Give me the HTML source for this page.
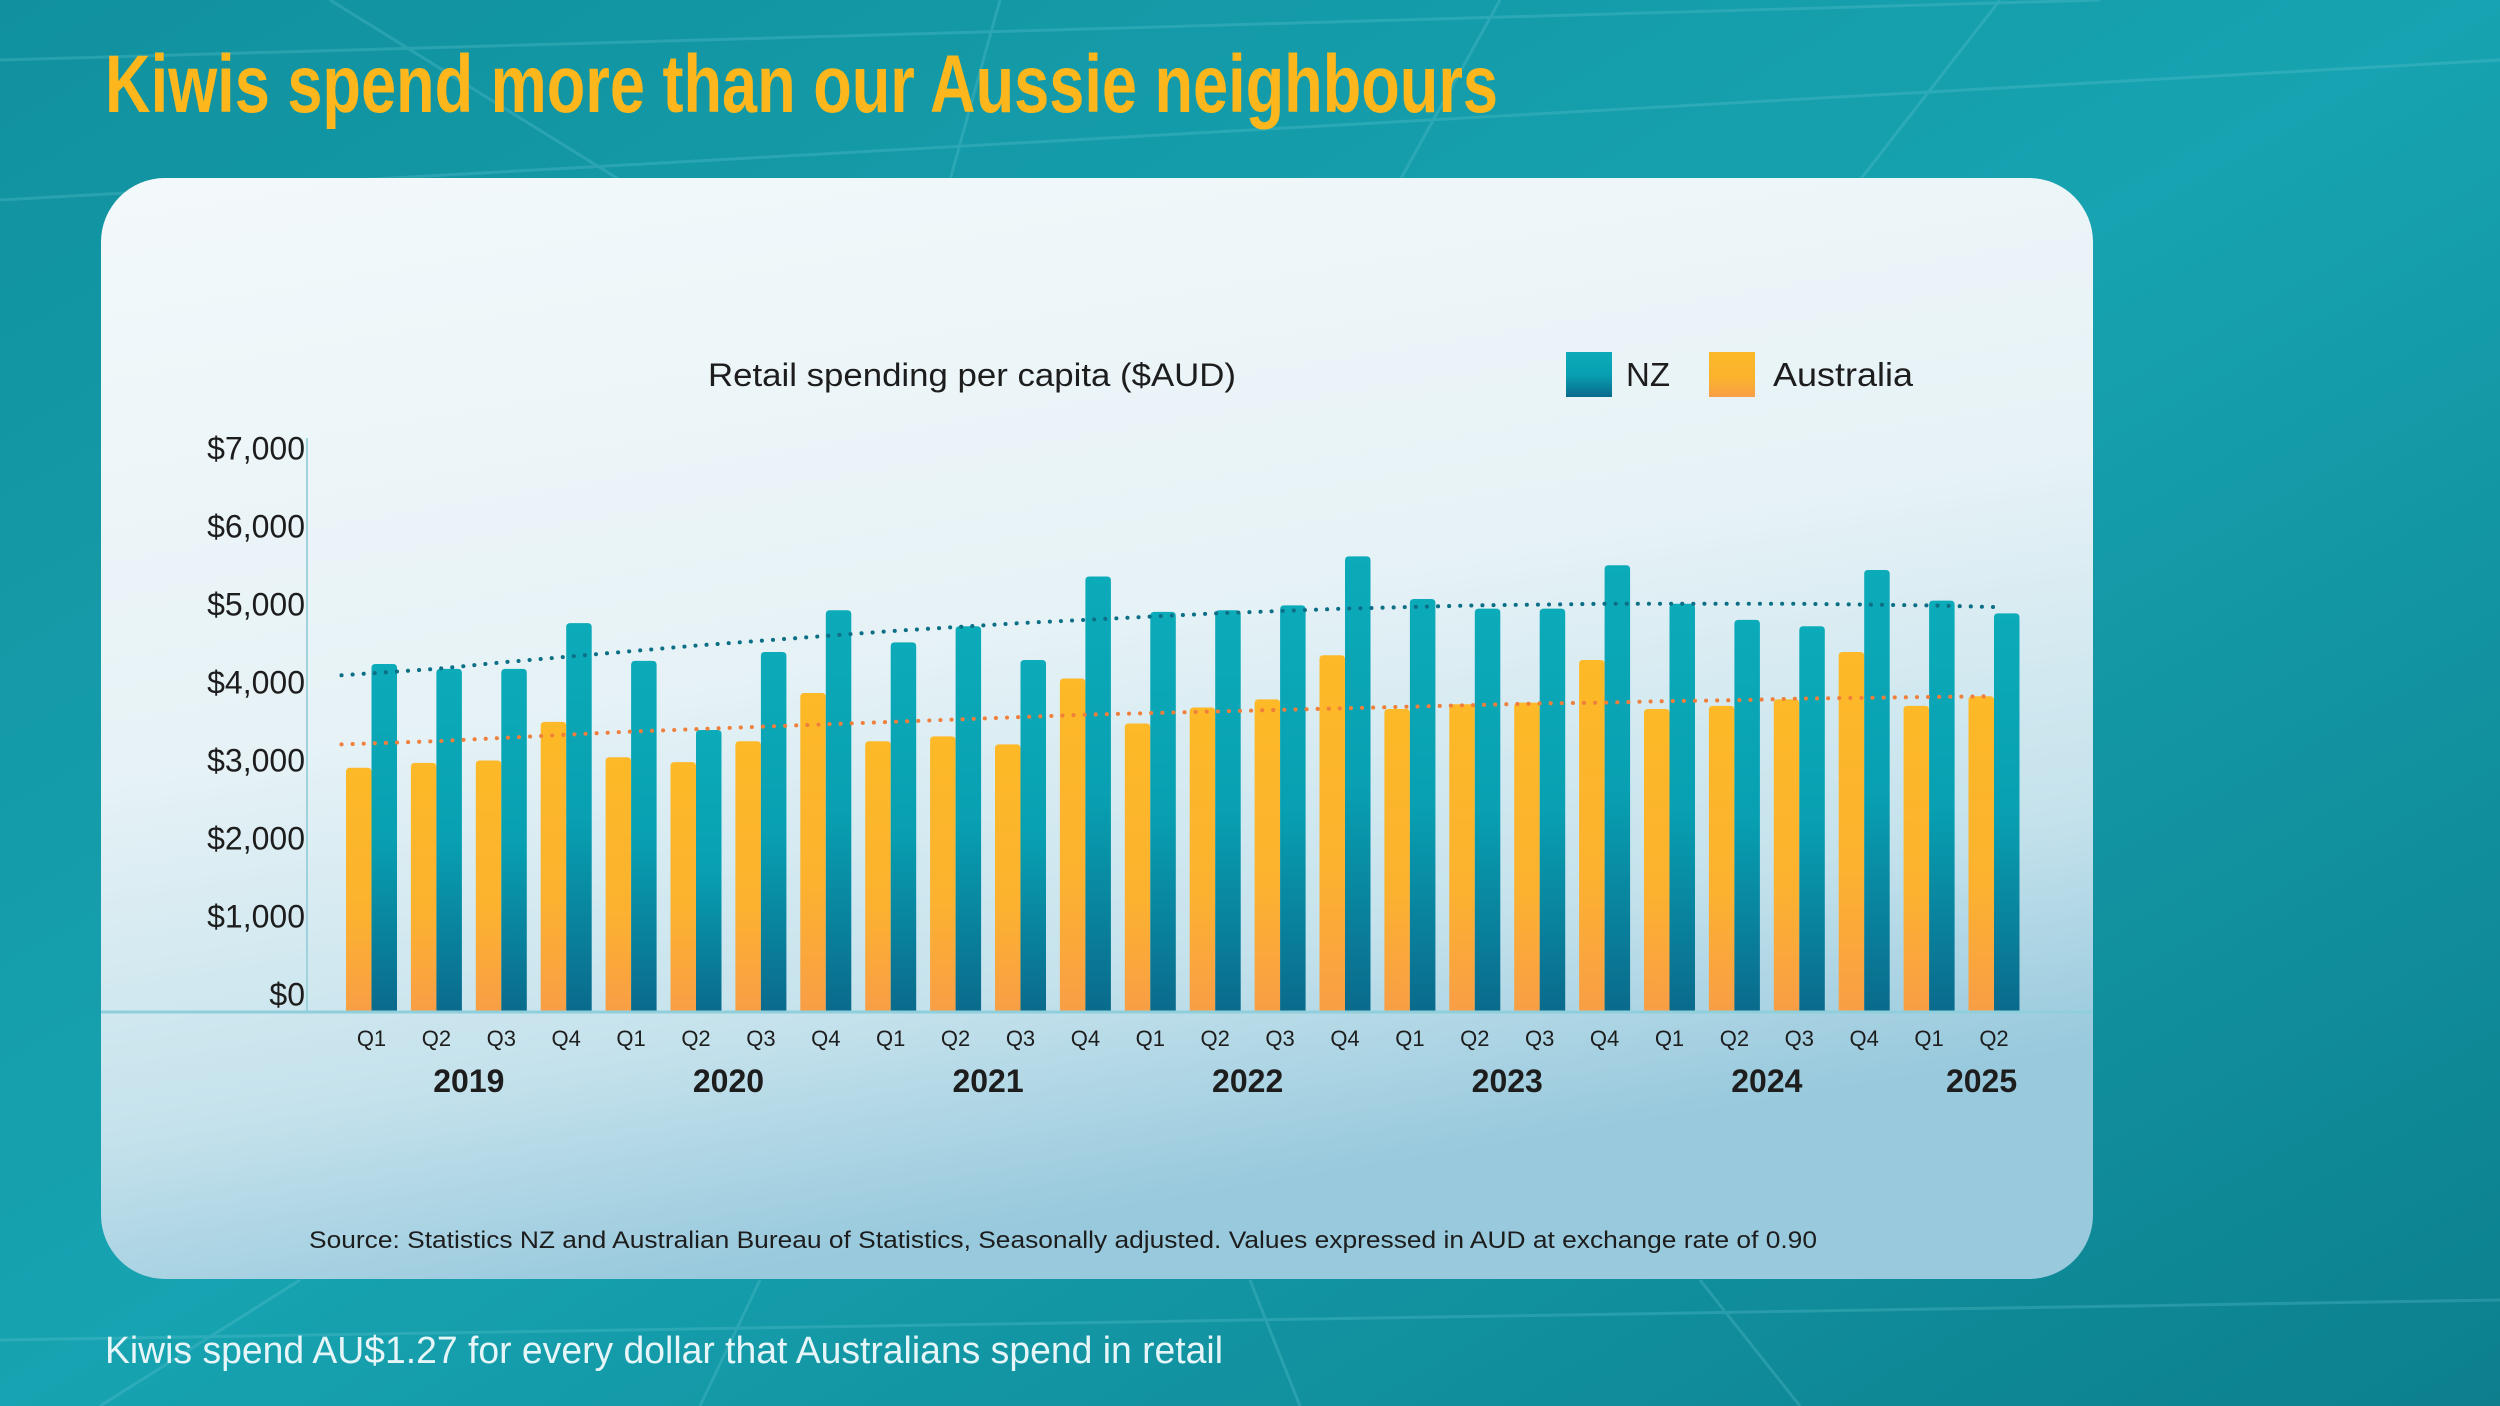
<!DOCTYPE html>
<html><head><meta charset="utf-8"><style>
html,body{margin:0;padding:0;width:2500px;height:1406px;overflow:hidden;background:#1493a2}
svg{display:block}
text{font-family:"Liberation Sans",sans-serif}
</style></head><body>
<svg id="chart" width="2500" height="1406" viewBox="0 0 2500 1406" xmlns="http://www.w3.org/2000/svg">
<defs>
<linearGradient id="bg" x1="0" y1="0" x2="1" y2="1">
<stop offset="0" stop-color="#11919f"/><stop offset="0.5" stop-color="#17a3b1"/><stop offset="1" stop-color="#0c7f8d"/>
</linearGradient>
<linearGradient id="card" x1="0" y1="0" x2="0.3" y2="1">
<stop offset="0" stop-color="#f3f9fb"/><stop offset="0.5" stop-color="#e6f2f6"/><stop offset="0.8" stop-color="#c5e2ec"/><stop offset="1" stop-color="#98c9dd"/>
</linearGradient>
<linearGradient id="nzg" x1="0" y1="0" x2="0" y2="1">
<stop offset="0" stop-color="#0cabb9"/><stop offset="0.5" stop-color="#08a0b2"/><stop offset="1" stop-color="#0a6a8c"/>
</linearGradient>
<linearGradient id="aug" x1="0" y1="0" x2="0" y2="1">
<stop offset="0" stop-color="#fdb927"/><stop offset="0.6" stop-color="#fcb22f"/><stop offset="1" stop-color="#f89e46"/>
</linearGradient>
</defs>
<rect width="2500" height="1406" fill="url(#bg)"/>
<g stroke="#5fc3cf" stroke-opacity="0.3" stroke-width="3" fill="none">
<path d="M0 60 L2100 0 M0 200 L2500 60 M330 0 L620 180 M1000 0 L950 180 M1500 0 L1400 180 M2000 0 L1860 180 M100 1406 L300 1280 M700 1406 L760 1280 M1300 1406 L1250 1280 M1800 1406 L1700 1280 M0 1340 L2500 1300"/>
</g>
<text x="105" y="112" font-family="'Liberation Sans Narrow','Liberation Sans',sans-serif" font-weight="bold" font-size="82" fill="#fdb61c" textLength="1393" lengthAdjust="spacingAndGlyphs">Kiwis spend more than our Aussie neighbours</text>
<rect x="101" y="178" width="1992" height="1101" rx="64" fill="url(#card)"/>
<text x="708" y="386" font-size="32" fill="#1d1d1d" textLength="528" lengthAdjust="spacingAndGlyphs">Retail spending per capita ($AUD)</text>
<rect x="1566" y="352" width="46" height="45" fill="url(#nzg)"/>
<text x="1626" y="386" font-size="33" fill="#1d1d1d">NZ</text>
<rect x="1709" y="352" width="46" height="45" fill="url(#aug)"/>
<text x="1773" y="386" font-size="33" fill="#1d1d1d" textLength="140" lengthAdjust="spacingAndGlyphs">Australia</text>
<line x1="307" y1="438" x2="307" y2="1012" stroke="#9fd3dc" stroke-width="2"/>
<g id="yticks"></g>
<g id="bars"></g>
<g id="trends"></g>
<line x1="101" y1="1012" x2="2093" y2="1012" stroke="#8fcfdc" stroke-width="3"/>
<g id="xlabels"></g>
<text x="309" y="1248" font-size="24" fill="#1d1d1d" textLength="1508" lengthAdjust="spacingAndGlyphs">Source: Statistics NZ and Australian Bureau of Statistics, Seasonally adjusted. Values expressed in AUD at exchange rate of 0.90</text>
<text x="105" y="1363" font-size="38" fill="#e6f5f7" textLength="1118" lengthAdjust="spacingAndGlyphs">Kiwis spend AU$1.27 for every dollar that Australians spend in retail</text>
</svg>
<script>
const quarters = ["Q1","Q2","Q3","Q4","Q1","Q2","Q3","Q4","Q1","Q2","Q3","Q4","Q1","Q2","Q3","Q4","Q1","Q2","Q3","Q4","Q1","Q2","Q3","Q4","Q1","Q2"];
const years = ["2019","2020","2021","2022","2023","2024","2025"];
const nzValues = [4330,4270,4270,4840,4370,3510,4480,5000,4600,4800,4380,5420,4980,5000,5060,5670,5140,5020,5020,5560,5080,4880,4800,5500,5120,4960];
const auValues = [3040,3100,3130,3610,3170,3110,3370,3970,3370,3430,3330,4150,3590,3790,3890,4440,3770,3830,3850,4380,3770,3810,3890,4480,3810,3930];
const nzTrend = [4190,4270,4350,4420,4490,4560,4620,4680,4740,4790,4840,4880,4920,4960,4990,5020,5040,5060,5070,5080,5080,5080,5080,5070,5060,5040];
const auTrend = [3330,3370,3410,3450,3490,3520,3550,3580,3610,3640,3670,3700,3720,3740,3760,3780,3800,3820,3840,3850,3870,3880,3900,3910,3920,3930];
const yTicks = [0,1000,2000,3000,4000,5000,6000,7000];
const yTickLabels = ["$0","$1,000","$2,000","$3,000","$4,000","$5,000","$6,000","$7,000"];

const NS="http://www.w3.org/2000/svg";
const y0=1012, y7=449.5;
const yScale=v=>y0-(v/7000)*(y0-y7);
const labelScale=v=>994.6-(v/1000)*78;
const xScale=i=>371.5+64.9*i;
const bw=25.5;
function mk(tag,attrs,parent){const e=document.createElementNS(NS,tag);for(const k in attrs)e.setAttribute(k,attrs[k]);parent.appendChild(e);return e;}

const yt=document.getElementById('yticks');
yTicks.forEach((v,i)=>{
  const t=mk('text',{x:305,y:labelScale(v)+11,'font-size':32,'text-anchor':'end',fill:'#1d1d1d'},yt);
  t.textContent=yTickLabels[i];
  
  
});

const bars=document.getElementById('bars');
function barPath(x,w,top){const r=4;return `M${x} ${y0} L${x} ${top+r} Q${x} ${top} ${x+r} ${top} L${x+w-r} ${top} Q${x+w} ${top} ${x+w} ${top+r} L${x+w} ${y0} Z`;}
quarters.forEach((q,i)=>{
  const cx=xScale(i);
  const a=mk('path',{d:barPath(cx-bw,bw,yScale(auValues[i])),fill:'url(#aug)'},bars);
  
  
  const n=mk('path',{d:barPath(cx,bw,yScale(nzValues[i])),fill:'url(#nzg)'},bars);
  
  
});

const tr=document.getElementById('trends');
function trend(vals,color,name){
  const pts=vals.map((v,i)=>`${xScale(i)-(i===0?30:0)},${yScale(v)}`).join(' ');
  const p=mk('polyline',{points:pts,fill:'none',stroke:color,'stroke-width':4,'stroke-dasharray':'0.1 11','stroke-linecap':'round'},tr);
  
  
}
trend(nzTrend,'#0d6f86','trendline-nz');
trend(auTrend,'#ef7f3a','trendline-australia');

const xl=document.getElementById('xlabels');
quarters.forEach((q,i)=>{
  const t=mk('text',{x:xScale(i),y:1046,'font-size':22,'text-anchor':'middle',fill:'#1d1d1d'},xl);
  t.textContent=q;
  
  
});
years.forEach((y,j)=>{
  const first=j*4, last=Math.min(j*4+3,quarters.length-1);
  const partial = (last-first)<3 ? 20 : 0;
  const t=mk('text',{x:(xScale(first)+xScale(last))/2+partial,y:1092,'font-size':32,'font-weight':'bold','text-anchor':'middle',fill:'#1d1d1d'},xl);
  t.textContent=y;
  
  
});
</script>
</body></html>
